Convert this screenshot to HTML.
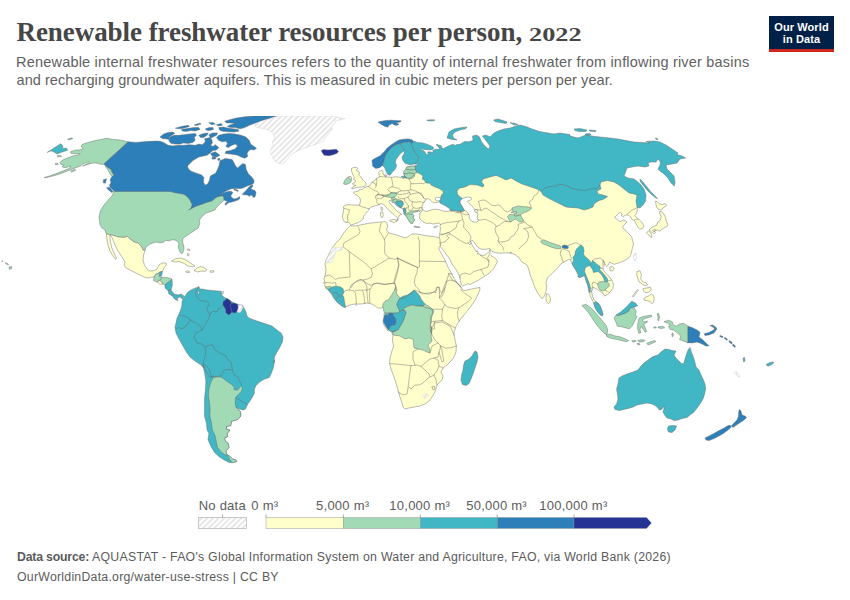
<!DOCTYPE html>
<html lang="en"><head><meta charset="utf-8">
<title>Renewable freshwater resources per person, 2022</title>
<style>
html,body{margin:0;padding:0;background:#fff;}
body{width:850px;height:600px;position:relative;overflow:hidden;font-family:"Liberation Sans",Arial,sans-serif;color:#5b5b5b;}
.abs{position:absolute;white-space:nowrap;}
.yr{display:inline-block;font-size:19.6px;line-height:20px;transform:scaleX(1.34);transform-origin:0 100%;letter-spacing:0;}
#title{left:16.5px;top:16px;font-family:"Liberation Serif","Times New Roman",serif;font-weight:bold;font-size:27px;line-height:32px;color:#464646;letter-spacing:-0.06px;}
.sub{left:16.5px;font-size:14.5px;line-height:18px;color:#616161;letter-spacing:0.19px;}
#sub1{top:52.7px;letter-spacing:0.2px;left:16px;}
#sub2{top:70.5px;letter-spacing:0.065px;}
#logo{left:769px;top:16px;width:65px;height:33px;background:#002147;border-bottom:3px solid #ce261e;color:#fff;font-weight:bold;font-size:11px;line-height:11.7px;text-align:center;letter-spacing:0.1px;}
#logo div{position:absolute;left:0;width:65px;text-align:center;}
.foot{left:17px;font-size:12.3px;line-height:16px;color:#5b5b5b;}
#foot1{top:548.8px;letter-spacing:0.255px;}
#foot2{top:568.6px;letter-spacing:0.25px;}
#foot1 b{color:#5b5b5b;letter-spacing:-0.2px;}
svg{position:absolute;left:0;top:0;}
.lg{font-family:"Liberation Sans",Arial,sans-serif;font-size:13px;fill:#5b5b5b;letter-spacing:0.24px;}
</style></head><body>
<div id="title" class="abs">Renewable freshwater resources per person, <span class="yr">2022</span></div>
<div id="sub1" class="abs sub">Renewable internal freshwater resources refers to the quantity of internal freshwater from inflowing river basins</div>
<div id="sub2" class="abs sub">and recharging groundwater aquifers. This is measured in cubic meters per person per year.</div>
<div id="logo" class="abs"><div style="top:6.2px">Our World</div><div style="top:17.9px">in Data</div></div>
<svg width="850" height="600" viewBox="0 0 850 600">
<defs><pattern id="hatch" patternUnits="userSpaceOnUse" width="4" height="4" patternTransform="rotate(45)"><rect width="4" height="4" fill="#ffffff"/><line x1="1" y1="0" x2="1" y2="4" stroke="#dadada" stroke-width="1.3"/></pattern>
<clipPath id="mapclip"><rect x="0" y="116" width="850" height="360"/></clipPath></defs>
<g clip-path="url(#mapclip)" stroke="#666666" stroke-width="0.45" stroke-linejoin="round">
<path d="M422.0,208.5 L423.5,210.5 L426.0,211.5 L429.0,210.8 L432.0,209.5 L436.0,209.2 L440.0,210.0 L444.0,211.2 L448.0,211.5 L450.5,210.8 L454.0,210.0 L455.0,200.0 L452.0,188.0 L470.0,178.0 L500.0,165.0 L545.0,185.0 L600.0,175.0 L625.0,180.0 L642.0,200.0 L638.0,207.0 L637.5,207.5 L637.2,211.0 L636.0,214.0 L635.0,215.5 L636.5,217.5 L638.5,219.0 L641.0,221.5 L643.0,224.0 L643.8,226.5 L642.5,228.5 L640.0,229.2 L638.5,228.0 L637.0,225.5 L635.5,223.0 L634.5,220.5 L633.0,220.0 L631.5,219.0 L630.5,216.5 L628.5,215.5 L627.0,214.5 L625.0,215.5 L623.0,216.5 L621.5,216.0 L622.0,214.0 L620.5,212.5 L619.0,213.0 L617.5,214.5 L616.0,216.0 L614.5,217.5 L616.5,219.0 L618.5,220.5 L620.0,221.5 L621.5,221.0 L623.5,220.0 L625.5,221.0 L627.0,222.0 L625.5,223.5 L624.0,225.0 L622.5,227.0 L624.0,229.0 L626.5,231.5 L629.0,234.0 L631.0,236.0 L632.0,238.0 L632.5,240.5 L633.5,243.0 L633.0,246.0 L632.2,249.0 L631.5,252.0 L630.5,255.0 L630.7,255.2 L628.5,258.2 L624.7,260.5 L621.0,262.0 L617.2,263.5 L614.2,264.2 L612.0,263.5 L609.7,262.0 L608.2,265.0 L606.7,266.5 L604.5,263.5 L603.0,260.5 L603.0,267.5 L603.7,270.5 L606.0,273.5 L609.0,276.5 L612.0,280.2 L613.5,284.7 L612.7,288.5 L610.5,291.5 L607.5,294.5 L604.5,296.0 L603.0,293.0 L600.0,291.5 L597.0,289.2 L594.0,287.7 L591.7,287.7 L591.0,289.2 L591.7,292.2 L592.5,296.0 L594.0,299.7 L596.2,302.0 L598.5,303.5 L600.0,305.7 L601.5,309.5 L603.0,314.0 L602.2,315.8 L600.0,314.7 L597.0,311.0 L594.7,306.5 L594.0,303.5 L593.2,302.0 L591.7,299.0 L590.2,296.0 L589.5,291.5 L588.7,287.0 L587.2,282.5 L585.7,278.0 L585.0,274.2 L582.7,276.5 L579.0,277.2 L577.5,274.2 L576.0,270.5 L573.7,266.7 L572.2,263.7 L570.7,260.0 L569.2,259.2 L566.2,260.7 L563.2,262.2 L561.0,263.7 L558.7,266.7 L555.0,270.5 L551.2,274.2 L547.5,278.0 L546.0,282.5 L546.7,287.0 L546.0,291.5 L544.5,296.0 L542.2,298.7 L540.7,297.5 L537.7,293.0 L534.7,287.0 L532.5,281.0 L530.2,275.0 L528.7,269.0 L526.5,264.5 L522.0,262.2 L519.0,257.7 L515.2,254.7 L510.0,252.5 L511.5,253.0 L507.0,253.0 L503.0,253.0 L499.0,253.2 L495.0,252.5 L492.0,251.5 L490.5,250.0 L489.5,248.5 L487.0,249.0 L484.0,249.5 L481.0,249.0 L478.0,247.5 L476.0,245.0 L474.5,242.5 L473.0,240.5 L470.5,241.0 L471.2,243.5 L472.5,245.5 L474.0,248.0 L475.5,250.5 L476.5,252.0 L477.0,250.5 L478.0,252.0 L477.5,254.0 L479.0,253.5 L480.0,255.0 L482.5,255.5 L485.0,255.0 L487.0,253.5 L489.0,251.5 L490.0,249.5 L490.5,250.5 L489.5,254.0 L491.0,255.5 L494.0,257.5 L496.5,259.5 L497.5,261.0 L496.5,263.5 L495.0,266.0 L493.5,269.0 L491.0,271.5 L488.0,274.0 L485.0,276.0 L482.0,278.0 L478.0,280.5 L474.0,282.5 L470.0,284.5 L468.0,283.7 L462.7,286.0 L461.5,285.0 L460.5,281.0 L460.2,278.0 L459.0,275.0 L457.5,272.0 L455.5,269.0 L453.5,266.0 L451.5,263.0 L450.0,259.5 L447.5,256.0 L445.0,252.5 L442.5,249.0 L440.0,246.5 L440.5,245.0 L440.0,243.0 L439.0,237.5 L439.5,235.0 L440.0,232.0 L440.5,229.0 L440.0,226.0 L440.5,224.0 L439.0,223.0 L436.0,223.5 L433.0,224.0 L430.0,223.0 L427.0,223.5 L424.0,222.5 L421.0,220.0 L419.5,218.0 L420.0,215.0 L419.2,213.8 L421.0,212.5 L422.0,211.2Z" fill="#ffffcc"/>
<path d="M350.0,225.6 L355.0,226.0 L360.0,225.0 L368.0,223.4 L375.0,222.6 L381.0,222.0 L385.0,221.4 L387.0,223.0 L387.6,227.0 L386.4,230.0 L389.0,233.0 L393.0,234.0 L397.0,235.0 L402.0,237.0 L406.0,238.0 L409.0,236.0 L412.0,234.0 L417.0,234.0 L422.0,235.0 L428.0,236.0 L434.0,236.6 L438.0,237.5 L440.0,238.5 L440.0,243.0 L440.5,245.0 L439.5,247.2 L438.5,247.8 L440.0,251.0 L442.0,255.0 L444.5,259.0 L446.0,262.5 L447.5,266.0 L449.0,269.0 L451.0,272.5 L452.5,275.5 L454.5,279.0 L457.0,282.5 L459.5,285.0 L460.5,286.0 L462.0,289.7 L465.0,290.5 L470.2,289.3 L475.5,288.2 L480.0,287.5 L479.7,290.5 L477.7,295.0 L475.5,299.5 L472.5,304.0 L468.7,309.2 L465.0,313.7 L461.2,318.2 L458.2,322.7 L456.0,326.5 L454.2,331.0 L454.0,335.0 L455.0,340.0 L456.4,346.0 L456.0,352.0 L454.0,357.0 L451.0,361.0 L447.0,365.0 L443.0,368.0 L441.0,372.0 L443.0,376.0 L442.0,380.0 L439.0,383.0 L437.0,385.0 L436.0,389.0 L434.4,393.0 L432.0,397.0 L429.0,401.0 L425.0,404.0 L420.0,406.0 L414.0,407.0 L409.0,408.0 L405.0,409.0 L403.0,407.0 L402.0,403.0 L400.0,397.0 L398.0,390.0 L396.0,383.0 L393.6,376.0 L391.0,369.0 L389.6,363.0 L390.0,358.0 L391.6,352.0 L393.6,346.0 L392.4,340.0 L393.0,335.0 L391.0,331.0 L388.0,328.0 L388.0,331.0 L385.0,327.0 L383.0,323.0 L384.0,319.0 L384.0,314.0 L385.0,309.0 L384.0,305.0 L382.0,308.0 L378.0,308.0 L375.0,306.0 L372.0,304.0 L367.0,303.0 L361.0,304.0 L355.0,304.0 L350.0,305.0 L345.0,307.0 L341.0,305.0 L337.0,302.0 L334.0,298.0 L331.0,294.0 L329.0,291.0 L326.0,288.0 L324.6,286.0 L325.0,283.0 L324.0,279.0 L325.0,276.0 L326.0,270.0 L325.0,264.0 L326.0,260.0 L329.0,254.0 L332.0,248.0 L335.0,244.0 L340.0,239.0 L343.0,234.0 L347.0,229.0Z" fill="#ffffcc"/>
<path d="M128.2,141.8 L120.0,140.0 L111.7,139.2 L107.2,138.2 L100.5,139.5 L94.5,140.7 L89.2,142.2 L82.5,144.2 L81.0,146.0 L83.2,149.0 L80.2,149.7 L75.0,150.2 L70.5,151.7 L71.2,153.5 L76.5,153.8 L80.2,153.5 L78.0,155.0 L73.5,155.7 L66.7,158.3 L62.2,160.2 L60.0,162.5 L60.7,164.3 L63.7,165.2 L62.2,167.0 L66.0,167.7 L70.5,165.8 L69.7,168.2 L64.5,170.3 L57.0,173.3 L49.5,176.0 L44.2,177.5 L45.0,177.9 L52.5,176.1 L60.0,173.9 L67.5,170.9 L75.0,168.0 L81.0,165.8 L82.2,164.3 L88.5,161.7 L89.4,162.5 L82.5,166.2 L90.0,163.7 L93.7,162.9 L97.5,163.2 L101.2,164.3 L104.5,164.3 L107.2,167.0 L111.0,169.2 L112.5,173.0 L114.3,175.2 L112.2,176.4 L110.2,174.5 L108.0,170.0 L105.7,167.0 L104.5,163.4Z" fill="#a1dab4"/>
<path d="M47.2,152.4 L52.5,149.0 L60.7,143.7 L63.0,146.0 L62.2,148.2 L66.7,148.2 L67.5,150.2 L62.2,152.0 L57.0,153.9 L54.0,152.0 L51.0,150.8Z" fill="#41b6c4"/>
<path d="M67.5,139.2 L72.0,137.9 L72.7,138.8 L68.2,139.8Z" fill="#41b6c4"/>
<path d="M57.0,155.7 L60.7,155.4 L61.5,156.5 L57.7,156.8Z" fill="#a1dab4"/>
<path d="M55.2,163.7 L57.7,163.2 L58.2,164.3 L55.5,164.7Z" fill="#a1dab4"/>
<path d="M70.5,171.2 L75.0,169.2 L75.7,170.3 L71.7,172.1Z" fill="#a1dab4"/>
<path d="M114.0,190.0 L114.0,192.0 L112.0,196.0 L109.0,199.0 L104.0,205.0 L100.4,211.0 L99.0,217.0 L100.0,225.0 L102.0,228.0 L105.0,230.0 L106.4,234.0 L112.0,235.0 L118.0,237.0 L125.0,237.4 L127.0,236.0 L130.0,239.0 L134.0,242.0 L138.0,243.0 L141.0,246.0 L143.0,250.0 L145.0,250.4 L146.0,247.0 L150.0,244.0 L156.0,242.0 L160.0,242.7 L163.8,242.2 L165.2,240.3 L169.0,240.8 L172.8,239.7 L175.0,240.0 L177.7,241.5 L178.8,243.8 L178.3,246.8 L179.2,250.5 L181.0,253.5 L182.5,253.2 L183.7,250.5 L184.0,246.8 L182.8,243.0 L182.5,239.2 L184.8,237.0 L189.2,234.0 L193.8,231.0 L198.2,228.0 L199.3,225.0 L199.8,222.8 L199.3,221.2 L200.5,218.2 L203.5,215.2 L206.5,212.7 L211.0,211.5 L214.8,210.0 L216.2,207.8 L218.5,205.2 L220.0,203.8 L222.2,202.2 L224.1,200.0 L224.0,196.3 L222.2,195.5 L220.0,190.0Z" fill="#a1dab4"/>
<path d="M128.2,141.8 L136.0,142.4 L146.0,141.6 L156.0,141.0 L160.0,141.2 L163.5,142.4 L168.2,145.3 L173.0,145.9 L177.6,145.3 L183.5,145.3 L189.4,144.7 L195.3,145.3 L198.8,144.1 L202.4,144.7 L205.3,141.8 L204.7,138.8 L209.4,137.6 L211.8,139.4 L212.4,142.9 L210.6,145.3 L212.9,146.5 L215.3,144.7 L218.8,147.6 L216.5,150.0 L212.9,150.6 L209.4,153.5 L207.0,155.3 L198.8,157.0 L192.9,160.6 L188.2,165.3 L187.6,166.6 L188.5,168.9 L191.1,171.2 L196.4,173.2 L201.6,175.0 L203.9,177.6 L203.4,182.0 L205.1,185.2 L207.8,183.8 L209.5,180.2 L210.4,175.9 L215.6,173.2 L217.4,169.8 L219.1,165.4 L220.0,160.7 L225.2,158.4 L232.2,159.6 L235.8,166.2 L237.5,168.0 L242.8,163.6 L245.4,164.5 L246.2,169.5 L248.5,174.1 L251.5,176.8 L253.8,179.8 L254.1,182.0 L253.0,183.9 L250.0,185.0 L247.0,186.1 L244.0,187.6 L241.0,188.4 L238.0,188.6 L235.0,188.4 L231.2,188.8 L228.2,189.9 L225.2,191.4 L222.2,193.2 L219.6,195.1 L218.1,196.6 L220.4,194.8 L223.4,192.9 L226.8,191.8 L229.8,191.2 L231.6,191.4 L232.8,192.5 L232.0,194.0 L230.9,195.5 L231.2,197.0 L233.9,198.9 L236.5,198.5 L238.4,197.4 L239.5,196.6 L239.9,198.5 L238.0,200.0 L235.0,201.1 L232.0,201.9 L229.0,202.6 L227.1,203.8 L225.6,205.2 L224.9,204.1 L226.4,202.2 L227.5,201.1 L225.2,200.8 L224.1,200.0 L223.9,198.1 L223.6,196.4 L222.2,195.9 L218.1,196.6 L215.5,198.1 L211.8,201.0 L206.5,202.5 L200.5,204.8 L196.0,206.2 L188.5,210.0 L190.8,208.5 L192.2,204.8 L190.0,200.2 L187.8,197.2 L184.0,194.2 L179.5,193.5 L172.8,192.3 L171.2,191.5 L160.0,191.5 L114.8,191.4 L112.5,189.5 L110.2,187.2 L109.5,185.0 L111.0,182.8 L110.2,179.8 L111.8,176.8 L114.3,175.2 L112.5,173.0 L111.0,169.2 L107.2,167.0 L104.5,164.3 L104.5,163.4Z" fill="#2c7fb8"/>
<path d="M160.0,137.1 L163.5,134.1 L168.2,132.4 L172.9,132.1 L174.7,133.5 L171.8,135.3 L169.4,137.1 L168.8,139.4 L165.9,138.8 L162.9,138.8Z" fill="#2c7fb8"/>
<path d="M168.8,139.4 L170.0,137.1 L174.1,135.3 L178.8,135.3 L183.5,134.7 L189.4,134.1 L195.3,133.5 L196.5,135.3 L194.1,137.6 L195.3,140.0 L192.9,142.4 L188.2,143.5 L183.5,142.9 L180.0,144.1 L175.3,144.1 L171.2,143.5 L169.4,141.8Z" fill="#2c7fb8"/>
<path d="M175.3,128.2 L181.2,126.5 L188.2,125.3 L189.4,126.5 L183.5,128.2 L178.8,128.8Z" fill="#2c7fb8"/>
<path d="M181.2,129.4 L187.1,128.6 L194.1,127.6 L198.8,127.6 L200.0,129.4 L195.3,130.9 L190.6,130.6 L185.9,131.4 L182.4,130.9Z" fill="#2c7fb8"/>
<path d="M194.1,125.1 L199.4,123.2 L201.2,123.9 L196.5,125.5Z" fill="#2c7fb8"/>
<path d="M208.8,122.7 L212.9,122.4 L215.3,123.9 L211.8,124.7Z" fill="#2c7fb8"/>
<path d="M205.3,128.8 L209.4,127.6 L212.9,127.6 L213.5,129.4 L209.4,130.6 L206.5,130.2Z" fill="#2c7fb8"/>
<path d="M224.7,121.2 L230.6,119.4 L236.5,118.0 L244.7,116.8 L254.1,116.1 L260.0,115.9 L277.6,115.6 L265.9,119.4 L260.0,121.2 L254.1,123.5 L249.4,125.3 L244.7,127.6 L240.0,128.8 L235.3,127.6 L230.6,127.6 L227.1,126.5 L230.6,124.7 L235.3,123.5 L230.6,122.9 L226.5,122.9Z" fill="#2c7fb8"/>
<path d="M218.8,127.6 L223.5,127.1 L228.2,128.2 L232.9,128.8 L238.2,129.4 L238.8,131.2 L234.1,132.1 L228.2,131.8 L222.4,131.2 L219.4,130.0Z" fill="#2c7fb8"/>
<path d="M216.5,124.7 L221.2,123.5 L222.4,125.3 L218.2,125.9Z" fill="#2c7fb8"/>
<path d="M198.8,135.3 L203.5,133.5 L208.2,132.9 L207.1,135.3 L203.5,137.6 L200.6,137.6Z" fill="#2c7fb8"/>
<path d="M208.8,134.7 L212.9,132.9 L217.6,132.9 L216.5,135.3 L212.9,137.1 L210.6,138.2Z" fill="#2c7fb8"/>
<path d="M216.5,137.6 L218.8,135.3 L223.5,134.1 L229.4,133.5 L235.3,134.1 L241.2,135.3 L245.9,137.1 L249.4,140.6 L250.6,144.1 L254.1,146.5 L256.5,148.2 L254.1,150.0 L250.6,149.4 L248.2,151.2 L247.1,153.5 L247.6,156.5 L244.7,158.2 L241.2,157.1 L237.6,155.3 L235.3,154.7 L230.6,154.1 L225.3,153.5 L225.9,151.2 L230.6,150.6 L235.3,148.8 L237.6,145.9 L235.3,144.1 L231.8,145.3 L228.2,147.6 L225.9,146.5 L227.6,143.5 L225.9,141.2 L222.4,141.8 L218.8,140.6Z" fill="#2c7fb8"/>
<path d="M210.6,153.5 L215.3,151.8 L220.0,155.3 L216.5,157.1 L212.4,156.5Z" fill="#2c7fb8"/>
<path d="M211.8,157.6 L215.3,157.1 L215.9,158.8 L212.4,159.2Z" fill="#2c7fb8"/>
<path d="M217.6,158.8 L219.4,158.2 L220.0,160.0 L218.2,160.4Z" fill="#2c7fb8"/>
<path d="M242.1,194.4 L244.0,192.5 L246.3,190.3 L248.5,187.6 L250.8,185.4 L253.0,185.0 L252.3,186.9 L250.8,188.8 L253.0,189.9 L254.9,190.6 L256.0,192.5 L255.6,194.8 L254.9,197.0 L253.4,197.4 L252.3,195.5 L250.8,195.1 L249.3,196.3 L247.4,195.1 L244.8,194.8Z" fill="#2c7fb8"/>
<path d="M233.9,189.1 L236.5,189.7 L238.4,190.6 L238.0,191.4 L235.8,190.6 L234.1,189.9Z" fill="#2c7fb8"/>
<path d="M103.5,179.7 L106.5,178.7 L105.3,183.2 L103.2,182.7Z" fill="#2c7fb8"/>
<path d="M106.5,187.7 L109.5,187.2 L113.2,191.7 L111.7,192.5 L108.0,189.5Z" fill="#2c7fb8"/>
<path d="M106.4,234.0 L112.0,235.0 L118.0,237.0 L125.0,237.4 L127.0,236.0 L130.0,239.0 L134.0,242.0 L138.0,243.0 L141.0,246.0 L143.0,250.0 L145.0,250.4 L143.6,255.0 L143.0,260.0 L144.4,265.0 L147.0,269.0 L150.0,271.0 L154.0,270.6 L157.0,269.0 L159.0,265.0 L162.0,263.0 L166.0,263.0 L166.4,265.0 L164.0,268.0 L162.4,271.4 L159.6,272.0 L159.0,273.0 L156.0,274.0 L154.0,277.0 L150.0,277.4 L148.0,278.0 L144.0,277.0 L138.0,274.0 L132.0,271.0 L126.0,268.0 L124.0,265.0 L125.0,262.0 L122.0,257.0 L118.0,251.0 L115.0,245.0 L113.0,240.0 L111.6,236.6 L110.0,235.0 L110.0,237.4 L110.4,242.0 L111.6,247.0 L114.0,253.0 L116.4,258.0 L115.6,259.4 L113.0,256.0 L110.0,251.0 L108.0,245.0 L107.0,239.0Z" fill="#ffffcc"/>
<path d="M154.0,277.0 L156.0,274.0 L159.0,273.0 L159.6,276.6 L162.4,277.4 L160.0,280.0 L157.0,282.0 L153.6,280.6Z" fill="#a1dab4"/>
<path d="M159.6,272.0 L162.4,271.4 L161.6,276.0 L159.6,276.6Z" fill="#41b6c4"/>
<path d="M160.0,280.0 L162.4,277.4 L167.0,277.4 L172.0,279.0 L170.0,281.0 L167.0,283.0 L165.0,285.0 L163.0,284.0Z" fill="#a1dab4"/>
<path d="M157.0,282.0 L160.0,280.4 L163.0,284.0 L160.0,284.4Z" fill="#ffffcc"/>
<path d="M165.0,285.0 L167.0,283.0 L170.0,281.0 L172.0,279.0 L172.4,285.0 L171.0,290.0 L168.0,290.6 L165.0,288.0Z" fill="#41b6c4"/>
<path d="M168.0,290.6 L171.0,290.0 L174.0,294.0 L172.4,296.0 L169.0,294.0Z" fill="#41b6c4"/>
<path d="M172.4,296.0 L174.0,294.0 L178.0,295.0 L181.0,294.0 L184.0,296.0 L182.4,299.0 L180.0,297.0 L177.0,298.0 L178.0,300.6 L175.0,299.4Z" fill="#41b6c4"/>
<path d="M171.6,261.0 L176.0,258.6 L181.0,258.0 L186.0,260.0 L191.0,263.4 L195.0,266.0 L193.0,267.0 L188.0,266.0 L184.0,263.4 L179.0,261.4 L174.0,262.0Z" fill="#ffffcc"/>
<path d="M194.0,270.6 L197.0,268.0 L200.0,266.6 L204.0,267.4 L207.0,270.0 L205.0,271.4 L201.0,271.0 L198.0,272.0Z" fill="#ffffcc"/>
<path d="M185.6,271.4 L189.0,271.0 L189.6,272.4 L186.4,272.6Z" fill="#ffffcc"/>
<path d="M210.0,271.0 L213.6,270.6 L214.0,272.0 L210.4,272.4Z" fill="#ffffcc"/>
<path d="M187.0,249.0 L189.6,249.4 L190.0,250.6 L187.6,250.2Z" fill="#ffffcc"/>
<path d="M187.4,253.4 L189.0,254.0 L188.6,256.0 L187.4,255.4Z" fill="#ffffcc"/>
<path d="M185.0,296.0 L188.0,292.0 L192.0,289.4 L197.0,287.4 L199.0,286.6 L199.6,289.0 L202.0,289.0 L207.0,290.0 L212.0,290.6 L218.0,291.0 L221.0,291.4 L222.4,293.0 L221.6,295.0 L224.4,297.4 L227.0,298.6 L230.0,300.6 L234.0,303.0 L239.0,304.6 L242.4,305.4 L244.0,308.0 L246.0,312.0 L247.0,316.0 L249.0,318.0 L254.0,320.0 L260.0,322.0 L266.0,324.0 L272.0,326.0 L277.0,330.0 L281.0,333.0 L283.0,337.0 L282.4,342.0 L280.0,347.0 L277.0,352.0 L274.4,357.0 L274.0,363.0 L274.5,360.0 L273.6,367.0 L271.0,374.0 L269.3,377.5 L264.0,379.3 L259.6,381.9 L256.1,385.4 L254.4,388.9 L254.4,393.3 L252.6,396.8 L250.0,401.1 L247.4,404.6 L245.6,409.0 L243.0,409.9 L239.5,409.0 L236.0,407.3 L240.4,411.6 L240.9,416.0 L237.8,419.5 L231.6,421.3 L230.8,425.6 L226.4,426.5 L226.4,429.1 L229.9,430.0 L227.3,433.5 L227.3,437.0 L224.6,437.9 L225.5,441.4 L228.1,443.1 L229.0,447.5 L225.9,451.0 L226.9,454.5 L229.9,456.3 L232.5,458.9 L236.0,460.1 L236.9,461.5 L232.5,462.7 L229.0,462.4 L223.8,459.8 L218.5,456.3 L214.1,451.9 L210.6,445.8 L208.0,439.6 L208.9,433.5 L207.1,430.0 L206.3,423.0 L204.5,416.0 L204.5,407.3 L204.5,398.5 L205.4,389.8 L205.9,381.0 L204.5,372.3 L202.8,365.3 L204.0,368.0 L201.0,365.0 L195.0,361.0 L190.0,357.0 L187.0,353.0 L183.0,346.0 L179.0,339.0 L176.0,333.0 L175.0,327.0 L176.0,323.0 L177.0,318.0 L179.0,314.0 L181.0,309.0 L182.0,305.0 L182.0,302.0 L183.0,299.0Z" fill="#41b6c4"/>
<path d="M213.3,377.5 L217.6,376.6 L222.0,377.5 L226.4,381.0 L231.6,384.5 L234.3,387.1 L233.9,389.8 L237.8,390.1 L240.4,386.3 L242.7,388.0 L241.3,391.5 L237.8,395.0 L235.7,397.6 L235.1,402.9 L236.0,407.3 L240.4,411.6 L240.9,416.0 L237.8,419.5 L231.6,421.3 L230.8,425.6 L226.4,426.5 L226.4,429.1 L229.9,430.0 L227.3,433.5 L227.3,437.0 L224.6,437.9 L225.5,441.4 L228.1,443.1 L229.0,447.5 L225.9,451.0 L226.9,454.5 L229.9,456.3 L232.5,458.9 L236.0,460.1 L236.9,461.5 L232.5,462.4 L229.9,459.8 L227.6,455.4 L224.6,454.5 L221.1,451.9 L217.6,447.5 L216.4,442.3 L215.0,435.3 L212.4,430.0 L211.5,423.0 L209.8,416.0 L210.1,409.0 L209.4,402.0 L208.4,395.0 L208.9,388.9 L210.6,382.8Z" fill="#a1dab4"/>
<path d="M223.0,302.0 L227.0,298.6 L230.0,300.6 L231.6,303.4 L230.0,305.0 L231.0,308.0 L232.0,312.0 L229.0,315.0 L226.0,313.0 L225.6,309.0 L223.0,305.0Z" fill="#253494"/>
<path d="M231.6,303.4 L234.0,303.0 L238.0,304.6 L238.4,308.0 L237.0,312.0 L234.0,313.0 L232.0,312.0 L231.0,308.0 L230.0,305.0Z" fill="#253494"/>
<path d="M238.0,304.6 L241.0,305.0 L243.0,307.0 L242.0,310.0 L240.0,312.6 L237.0,312.0 L238.4,308.0Z" fill="url(#hatch)" stroke="#d0d0d0"/>
<path d="M197.6,291.0 L199.2,291.8 L199.0,294.2 L197.8,293.8Z" fill="#ffffff"/>
<path d="M254.5,125.2 L259.0,122.2 L265.0,120.0 L277.0,117.7 L277.7,115.9 L302.5,115.9 L331.0,115.9 L334.0,116.7 L345.2,118.5 L340.0,120.0 L335.5,120.7 L334.7,123.7 L331.7,126.0 L332.5,129.0 L330.2,132.0 L328.0,135.0 L325.0,137.2 L323.5,141.0 L320.5,142.5 L316.0,144.3 L310.0,146.2 L304.0,148.5 L298.0,150.7 L293.5,153.0 L289.7,156.0 L286.7,159.7 L284.5,162.7 L281.5,164.2 L277.7,162.7 L274.0,160.5 L272.5,156.7 L270.2,153.0 L271.0,148.5 L273.2,145.5 L272.5,141.7 L274.7,138.7 L274.0,135.0 L272.5,132.7 L268.0,129.7 L262.0,128.2 L256.7,127.5Z" fill="url(#hatch)" stroke="#d0d0d0"/>
<path d="M321.2,150.7 L323.5,149.5 L328.0,150.0 L331.7,149.7 L336.2,149.2 L338.5,151.5 L337.0,153.3 L333.2,154.8 L328.7,155.7 L324.2,155.2 L322.7,153.3Z" fill="#253494"/>
<path d="M343.5,184.0 L344.5,181.0 L346.0,178.5 L348.5,177.0 L350.5,177.5 L351.5,179.5 L351.0,182.0 L349.0,183.5 L346.0,184.5Z" fill="#a1dab4"/>
<path d="M349.0,176.5 L351.0,176.5 L351.5,178.5 L350.0,179.0 L348.8,178.0Z" fill="#ffffcc"/>
<path d="M351.5,168.5 L353.5,167.5 L356.5,167.2 L357.5,168.5 L356.5,170.5 L359.0,171.5 L359.5,173.5 L358.5,175.0 L360.5,176.5 L362.0,179.0 L363.5,180.5 L365.5,182.5 L366.0,184.5 L364.5,186.5 L361.5,187.0 L358.5,187.2 L355.0,188.0 L352.0,188.8 L351.5,188.0 L354.0,186.5 L356.0,185.5 L353.5,185.0 L352.5,183.5 L355.0,182.5 L355.5,180.5 L353.5,179.5 L354.5,177.5 L353.5,176.0 L352.5,173.5 L351.5,171.0Z" fill="#ffffcc"/>
<path d="M416.2,166.2 L410.2,166.2 L407.2,166.8 L408.0,167.7 L408.0,169.5 L404.2,171.0 L404.5,174.7 L405.7,177.7 L402.7,178.5 L401.7,177.7 L396.0,176.7 L391.5,177.4 L389.2,177.0 L384.7,177.0 L384.7,176.2 L383.2,174.0 L382.8,171.0 L381.0,170.2 L378.7,172.5 L379.5,177.0 L376.5,178.5 L374.2,180.7 L372.0,182.2 L369.4,185.8 L367.0,186.7 L364.0,187.9 L362.5,189.4 L359.5,189.4 L358.5,191.2 L355.0,191.8 L353.5,192.4 L353.4,192.9 L354.9,194.4 L357.5,195.5 L359.4,197.4 L360.5,200.0 L360.1,203.0 L359.4,205.3 L356.0,205.1 L351.5,204.9 L347.0,204.7 L344.4,205.6 L343.3,207.1 L344.0,208.3 L343.6,209.0 L343.3,212.0 L342.5,215.0 L342.5,218.0 L343.6,220.3 L344.4,222.1 L346.3,222.4 L348.9,222.5 L350.0,224.0 L351.1,225.1 L353.0,224.4 L355.3,223.6 L358.3,222.5 L360.9,221.0 L363.1,218.8 L363.5,216.5 L365.0,214.3 L366.5,212.4 L368.4,210.5 L369.5,208.6 L370.6,207.1 L373.3,206.4 L375.9,205.6 L378.1,204.9 L379.3,204.1 L379.1,204.4 L381.0,203.6 L383.3,204.4 L385.1,206.3 L387.0,208.1 L388.9,210.4 L391.1,212.3 L393.4,214.1 L395.6,216.0 L397.1,217.5 L397.9,219.0 L397.5,220.9 L396.4,221.6 L397.4,219.8 L398.6,217.5 L399.0,215.6 L400.9,214.5 L402.0,214.5 L400.9,213.4 L399.0,212.6 L397.1,211.1 L394.9,208.9 L393.0,206.6 L391.1,204.8 L389.6,202.9 L388.9,201.4 L389.6,200.3 L391.1,200.6 L391.9,201.4 L392.6,202.5 L393.8,202.1 L394.5,203.3 L396.0,204.8 L397.9,206.3 L399.8,207.4 L401.6,208.1 L403.1,208.9 L403.5,210.4 L403.9,212.6 L404.3,214.5 L405.4,215.3 L406.5,216.8 L407.6,218.6 L408.8,220.5 L409.5,222.0 L411.0,223.1 L412.5,223.5 L412.9,222.0 L414.0,220.9 L414.8,219.8 L413.6,218.6 L412.9,217.1 L414.0,216.0 L412.9,214.5 L411.8,213.4 L413.3,212.3 L415.1,211.9 L417.0,211.5 L418.5,210.8 L418.5,210.5 L420.0,211.2 L421.0,210.5 L422.0,209.5 L422.0,208.5 L422.0,206.5 L423.0,203.5 L425.0,201.0 L426.5,198.5 L429.0,199.0 L431.5,201.0 L433.0,202.5 L436.0,202.6 L439.0,202.0 L439.8,201.2 L439.0,200.7 L436.5,200.7 L435.0,199.7 L435.5,198.0 L437.5,197.2 L440.0,197.5 L441.0,197.0 L445.0,192.0 L445.0,186.0 L435.0,180.0 L430.0,175.0 L425.0,170.0 L420.0,167.0Z" fill="#ffffcc"/>
<path d="M389.6,220.1 L391.9,219.8 L394.5,219.4 L396.4,219.8 L395.6,221.6 L394.5,222.8 L392.3,222.0 L390.4,221.3Z" fill="#ffffcc"/>
<path d="M380.6,212.3 L382.5,211.9 L383.3,214.5 L382.9,216.8 L381.4,217.5 L380.4,215.3Z" fill="#ffffcc"/>
<path d="M381.0,207.4 L382.1,207.0 L382.9,209.3 L382.1,210.8 L381.2,210.0Z" fill="#ffffcc"/>
<path d="M384.7,174.7 L387.0,175.5 L385.8,177.3Z" fill="#ffffcc"/>
<path d="M433.5,227.0 L436.0,226.0 L437.5,225.8 L436.5,227.2 L434.5,228.0Z" fill="#ffffcc"/>
<path d="M372.0,160.2 L372.7,166.2 L375.7,168.5 L379.5,167.7 L382.5,165.5 L384.0,161.7 L384.7,158.0 L386.2,154.2 L389.2,150.5 L392.2,147.2 L396.0,144.8 L399.3,143.7 L402.7,142.7 L405.7,142.2 L409.5,141.8 L411.7,143.7 L413.7,142.2 L412.5,140.0 L408.7,138.9 L403.5,139.2 L399.0,140.0 L395.2,142.2 L390.7,145.2 L387.0,148.2 L384.0,152.0 L380.2,155.7 L375.7,158.0Z" fill="#2c7fb8"/>
<path d="M382.5,165.5 L384.0,161.7 L384.7,158.0 L386.2,154.2 L389.2,150.5 L392.2,147.2 L396.0,144.8 L399.3,143.7 L400.5,144.2 L402.7,147.5 L404.2,150.5 L403.5,151.2 L400.5,153.5 L398.2,156.5 L396.0,159.5 L395.2,162.5 L396.7,165.5 L395.2,169.2 L392.2,172.2 L390.0,175.2 L387.7,174.5 L386.2,171.5 L384.7,167.7Z" fill="#41b6c4"/>
<path d="M399.3,143.7 L402.7,142.7 L405.7,142.2 L409.5,141.8 L411.7,143.7 L413.2,149.0 L416.2,153.5 L419.2,158.0 L417.0,161.7 L414.7,164.0 L409.5,164.7 L405.0,163.2 L402.7,160.2 L402.0,157.2 L404.2,153.5 L404.2,150.5 L402.7,147.5 L400.5,144.2Z" fill="#41b6c4"/>
<path d="M378.0,122.0 L384.0,120.8 L390.0,120.2 L396.0,120.5 L401.2,120.8 L400.5,122.0 L396.0,122.7 L399.0,124.2 L396.7,125.4 L393.7,124.7 L392.2,123.5 L389.2,125.0 L387.7,127.2 L384.7,126.2 L381.0,124.2Z" fill="#2c7fb8"/>
<path d="M406.5,167.1 L411.7,166.2 L415.2,166.2 L415.5,169.2 L412.5,170.0 L408.0,169.7 L405.7,169.2Z" fill="#a1dab4"/>
<path d="M403.5,171.5 L405.7,169.2 L408.0,169.7 L412.5,170.0 L415.5,169.2 L416.7,172.2 L414.0,173.7 L409.5,173.0 L406.5,173.7 L403.8,173.7Z" fill="#a1dab4"/>
<path d="M403.8,173.7 L406.5,173.7 L409.5,173.0 L414.0,173.7 L414.7,176.0 L412.5,178.2 L409.5,178.7 L406.5,177.5 L404.7,176.0Z" fill="#a1dab4"/>
<path d="M401.2,176.4 L404.7,176.0 L406.5,177.5 L402.7,177.8Z" fill="#41b6c4"/>
<path d="M382.1,195.4 L385.5,195.8 L389.3,194.6 L391.5,192.4 L394.5,192.4 L396.8,193.1 L396.4,195.4 L394.9,196.9 L392.3,197.6 L389.6,197.3 L387.0,196.9 L384.4,196.5Z" fill="#a1dab4"/>
<path d="M391.4,198.0 L392.3,197.6 L394.5,197.3 L395.6,198.4 L394.1,199.9 L391.9,200.3Z" fill="#a1dab4"/>
<path d="M391.9,200.3 L394.1,199.9 L396.0,198.8 L398.6,199.5 L401.6,200.6 L402.8,201.8 L400.1,201.4 L397.5,201.0 L396.0,201.4 L395.6,202.5 L396.8,204.0 L398.6,205.9 L400.9,207.4 L401.6,208.1 L399.8,207.4 L397.9,206.3 L396.0,204.8 L394.5,203.3 L393.8,202.1 L392.6,202.5 L391.9,201.4Z" fill="#a1dab4"/>
<path d="M396.0,201.4 L397.5,201.0 L400.1,201.4 L402.8,201.8 L403.5,203.3 L403.1,205.1 L402.0,207.0 L400.9,207.4 L398.6,205.9 L396.8,204.0 L395.6,202.5Z" fill="#41b6c4"/>
<path d="M403.5,208.1 L405.0,207.8 L405.8,209.6 L406.1,211.9 L405.4,213.8 L404.3,214.5 L403.9,212.6 L403.4,210.4Z" fill="#41b6c4"/>
<path d="M405.4,215.3 L405.8,213.8 L407.6,212.6 L409.5,211.9 L411.8,211.1 L414.0,210.8 L417.0,210.4 L418.5,210.8 L417.0,211.7 L415.1,211.9 L413.3,212.3 L411.8,213.4 L412.9,214.5 L414.0,216.0 L412.9,217.1 L413.6,218.6 L414.8,219.8 L414.0,220.9 L412.9,222.0 L412.5,223.5 L411.0,223.1 L409.5,222.0 L408.8,220.5 L407.6,218.6 L406.5,216.8Z" fill="#a1dab4"/>
<path d="M414.0,226.1 L417.0,226.5 L419.6,226.9 L419.9,227.6 L417.0,227.6 L414.4,227.1Z" fill="#a1dab4"/>
<path d="M447.0,138.0 L449.0,132.0 L454.0,129.0 L462.0,127.4 L467.0,127.0 L466.0,128.6 L460.0,130.0 L455.0,132.0 L452.4,135.0 L453.6,138.0 L457.0,140.0 L452.0,139.4Z" fill="#41b6c4"/>
<path d="M493.6,120.0 L498.0,119.0 L503.0,120.6 L507.0,122.0 L506.0,123.4 L500.0,122.6 L495.0,121.6Z" fill="#41b6c4"/>
<path d="M510.0,122.6 L515.0,123.4 L518.0,124.6 L514.0,125.0Z" fill="#41b6c4"/>
<path d="M574.0,129.0 L580.0,128.6 L587.0,130.0 L586.0,131.4 L579.0,131.6 L575.0,130.6Z" fill="#41b6c4"/>
<path d="M589.0,130.0 L596.0,130.6 L595.6,131.6 L590.0,131.2Z" fill="#41b6c4"/>
<path d="M585.0,134.0 L590.0,133.4 L591.0,135.0 L587.0,136.0Z" fill="#41b6c4"/>
<path d="M655.6,138.0 L658.0,139.0 L657.2,139.8 L655.6,139.0Z" fill="#41b6c4"/>
<path d="M640.0,179.0 L643.0,182.0 L647.0,187.0 L651.0,192.0 L655.0,196.0 L657.6,198.6 L655.0,197.4 L651.0,194.0 L647.0,190.0 L643.0,185.0 L640.0,181.0Z" fill="#41b6c4"/>
<path d="M426.7,120.2 L431.2,119.7 L435.0,119.9 L433.5,120.8 L429.0,120.9Z" fill="#41b6c4"/>
<path d="M546.7,293.7 L548.7,294.5 L550.5,298.2 L550.2,302.0 L548.2,303.5 L546.4,301.2 L546.0,297.5Z" fill="#ffffcc"/>
<path d="M609.7,267.2 L612.7,266.5 L614.2,268.7 L612.7,271.0 L610.2,270.7Z" fill="#ffffcc"/>
<path d="M634.2,253.7 L636.0,253.0 L636.7,256.0 L636.0,259.7 L634.5,261.2 L633.3,258.2Z" fill="url(#hatch)" stroke="#d0d0d0"/>
<path d="M655.5,201.0 L657.5,202.0 L659.5,204.0 L662.5,204.5 L665.0,203.5 L666.5,205.0 L665.5,206.5 L663.5,207.5 L662.5,209.0 L660.0,210.0 L658.0,209.0 L656.5,207.0 L656.0,204.5Z" fill="#ffffcc"/>
<path d="M660.0,211.0 L662.5,212.5 L664.5,215.0 L665.5,218.0 L666.5,221.5 L668.0,225.0 L667.0,226.5 L664.5,227.5 L662.5,229.0 L660.5,230.5 L659.0,231.2 L657.5,230.0 L655.5,230.5 L654.0,231.5 L655.5,232.5 L654.5,233.5 L652.5,233.0 L650.5,231.0 L649.0,230.0 L650.5,228.5 L652.5,227.0 L655.0,226.0 L657.0,225.0 L657.5,222.0 L659.0,221.5 L660.5,219.5 L661.0,216.5 L660.0,214.0 L659.5,212.0Z" fill="#ffffcc"/>
<path d="M646.5,232.5 L648.5,231.0 L650.0,232.0 L651.5,234.5 L652.0,237.0 L650.8,237.5 L649.5,235.5 L648.0,234.5Z" fill="#ffffcc"/>
<path d="M652.5,230.2 L655.5,229.5 L656.0,230.5 L653.5,231.5Z" fill="#ffffcc"/>
<path d="M540.7,241.2 L543.7,239.7 L549.0,242.0 L555.0,244.2 L560.2,245.7 L561.0,248.7 L556.5,248.7 L551.2,247.2 L546.0,245.0 L542.2,243.5Z" fill="#a1dab4"/>
<path d="M593.7,302.7 L595.8,301.7 L598.5,303.5 L600.0,305.7 L601.5,309.5 L603.0,314.0 L602.2,315.8 L600.0,314.7 L597.0,311.0 L594.7,306.5Z" fill="#41b6c4"/>
<path d="M475.0,351.0 L477.0,352.0 L478.0,357.0 L477.0,362.0 L475.0,368.0 L473.0,374.0 L471.0,379.0 L469.0,383.6 L466.0,385.6 L462.4,384.4 L461.0,380.0 L461.6,375.0 L463.0,370.0 L463.6,365.0 L465.0,361.0 L469.0,359.0 L472.0,356.0 L473.6,353.0Z" fill="#41b6c4"/>
<path d="M327.0,259.0 L332.0,248.0 L343.0,247.4 L342.0,250.0 L336.0,251.0 L334.0,257.0 L332.0,262.0 L327.0,263.0 L325.4,262.6Z" fill="url(#hatch)" stroke="#d0d0d0"/>
<path d="M325.6,286.9 L330.6,286.2 L331.2,288.1 L328.1,289.4 L326.2,288.8Z" fill="#a1dab4"/>
<path d="M328.1,289.4 L331.2,288.1 L331.9,286.9 L336.2,286.2 L340.6,286.9 L343.1,288.8 L343.8,292.5 L342.5,295.0 L340.6,296.9 L338.8,295.6 L336.9,293.1 L334.4,292.5 L332.5,294.4 L330.0,291.9Z" fill="#41b6c4"/>
<path d="M332.5,294.4 L334.4,292.5 L336.9,293.1 L338.8,295.6 L337.5,298.1 L335.6,300.0 L333.8,298.1Z" fill="#41b6c4"/>
<path d="M335.6,300.0 L337.5,298.1 L338.8,295.6 L340.6,296.9 L342.5,295.0 L343.8,296.9 L344.4,301.2 L345.6,307.5 L343.1,306.9 L340.0,304.4 L336.9,301.9Z" fill="#41b6c4"/>
<path d="M382.5,306.9 L383.1,303.8 L385.0,301.2 L388.8,299.4 L391.9,294.4 L394.4,290.6 L395.6,286.9 L396.9,290.0 L396.2,293.1 L398.1,295.6 L400.0,298.1 L398.1,301.2 L396.9,304.4 L398.1,307.5 L400.0,311.2 L397.5,313.1 L392.5,313.1 L387.5,313.1 L385.0,313.1 L383.8,311.2 L383.1,307.5Z" fill="#a1dab4"/>
<path d="M385.0,313.4 L388.8,313.4 L388.8,315.6 L384.8,315.6Z" fill="#41b6c4"/>
<path d="M384.4,315.6 L388.8,315.6 L388.8,313.1 L392.5,313.1 L393.8,316.2 L395.6,318.1 L396.2,322.5 L395.0,325.0 L392.5,325.6 L390.6,326.2 L389.4,328.8 L388.1,329.4 L386.2,326.9 L384.4,323.8 L383.1,321.2 L383.8,318.1Z" fill="#2c7fb8"/>
<path d="M392.5,313.1 L397.5,313.1 L400.0,311.2 L402.5,310.0 L405.0,310.6 L406.2,312.5 L405.0,316.2 L403.8,320.0 L401.9,323.8 L400.0,326.9 L398.1,330.0 L395.0,331.2 L391.9,331.5 L390.0,331.2 L388.1,329.4 L389.4,328.8 L390.6,326.2 L392.5,325.6 L395.0,325.0 L396.2,322.5 L395.6,318.1 L393.8,316.2Z" fill="#41b6c4"/>
<path d="M398.1,301.2 L400.0,298.1 L403.1,296.2 L407.5,295.0 L411.9,291.9 L413.8,290.0 L416.9,292.5 L420.0,296.2 L421.0,299.0 L425.0,304.0 L423.0,306.0 L417.0,306.0 L412.0,305.0 L407.0,306.6 L403.0,309.0 L405.0,310.6 L402.5,310.0 L400.0,311.2 L398.1,307.5 L396.9,304.4Z" fill="#41b6c4"/>
<path d="M405.0,310.6 L403.0,309.0 L407.0,306.6 L412.0,305.0 L417.0,306.0 L423.0,306.0 L425.0,304.0 L430.0,307.0 L434.0,311.0 L432.0,316.0 L431.0,321.0 L430.0,327.0 L431.0,333.0 L431.0,326.0 L432.0,331.0 L431.0,336.0 L432.0,341.0 L428.0,345.0 L430.0,350.0 L430.0,353.0 L427.0,352.0 L423.0,350.0 L418.0,349.0 L414.0,348.0 L413.0,339.0 L409.0,338.0 L405.0,339.0 L400.0,336.0 L393.0,335.0 L392.4,332.4 L395.0,331.0 L391.9,331.9 L395.0,331.2 L398.1,330.0 L400.0,326.9 L401.9,323.8 L403.8,320.0 L405.0,316.2 L406.2,312.5Z" fill="#a1dab4"/>
<path d="M422.4,396.0 L426.0,393.6 L428.4,395.6 L425.0,398.4Z" fill="url(#hatch)" stroke="#d0d0d0"/>
<path d="M582.2,305.2 L586.0,304.5 L590.5,307.5 L595.0,312.0 L598.7,316.5 L602.5,321.0 L606.2,325.5 L607.7,330.0 L607.0,334.5 L604.7,333.7 L601.0,330.0 L597.2,325.5 L593.5,320.2 L589.7,314.2 L586.0,309.7 L583.0,306.7Z" fill="#a1dab4"/>
<path d="M606.2,334.5 L610.0,334.2 L615.2,336.0 L619.7,336.7 L625.0,338.7 L628.7,340.5 L626.5,341.7 L621.2,340.5 L616.0,339.3 L610.7,338.2 L607.0,336.7Z" fill="#a1dab4"/>
<path d="M631.7,340.8 L634.7,340.2 L636.2,341.2 L633.2,342.3Z" fill="#a1dab4"/>
<path d="M637.7,340.5 L641.5,339.7 L645.2,340.2 L643.0,341.7 L639.2,342.0Z" fill="#a1dab4"/>
<path d="M637.0,343.5 L639.2,343.2 L640.0,344.7 L637.7,344.7Z" fill="#a1dab4"/>
<path d="M646.7,343.5 L650.5,341.7 L655.0,340.5 L655.7,341.7 L652.0,343.5 L648.2,345.0Z" fill="#a1dab4"/>
<path d="M616.0,315.0 L619.7,312.7 L624.2,309.0 L628.0,305.2 L631.7,301.2 L635.5,303.0 L637.7,305.7 L634.0,307.2 L630.2,308.2 L628.7,311.2 L625.0,313.5 L620.5,315.0 L617.5,315.7Z" fill="#41b6c4"/>
<path d="M616.0,315.0 L617.5,315.7 L620.5,315.0 L625.0,313.5 L628.7,311.2 L630.2,308.2 L634.0,307.5 L636.2,311.2 L635.5,315.0 L637.0,316.5 L634.7,321.0 L632.5,325.5 L629.5,328.8 L625.0,327.7 L621.2,326.7 L617.5,326.2 L616.0,322.5 L614.2,318.0Z" fill="#a1dab4"/>
<path d="M639.2,318.0 L643.0,316.5 L647.5,315.7 L651.2,315.0 L652.0,316.2 L648.2,317.7 L644.5,318.7 L642.2,320.2 L644.5,321.7 L647.5,321.0 L646.7,322.8 L643.7,324.0 L645.2,327.7 L646.7,331.5 L645.2,332.2 L643.0,329.2 L641.5,326.2 L640.0,329.2 L640.7,333.0 L638.8,333.3 L637.7,329.2 L637.7,324.0 L638.5,320.2Z" fill="#a1dab4"/>
<path d="M657.2,313.8 L658.7,313.5 L659.5,317.2 L658.7,321.0 L657.7,320.2 L658.0,317.2Z" fill="#a1dab4"/>
<path d="M653.5,327.3 L655.7,326.7 L656.5,327.7 L654.2,328.2Z" fill="#a1dab4"/>
<path d="M658.0,327.0 L662.5,326.2 L664.7,327.7 L661.7,328.5 L658.7,328.0Z" fill="#a1dab4"/>
<path d="M671.8,333.7 L673.0,333.0 L673.3,336.0 L672.1,336.7Z" fill="#a1dab4"/>
<path d="M637.0,271.5 L640.0,270.7 L641.5,274.5 L640.7,279.0 L643.0,282.0 L646.0,282.7 L647.5,285.0 L645.2,285.7 L642.2,284.2 L639.2,282.0 L637.7,278.2 L636.7,274.5Z" fill="#ffffcc"/>
<path d="M643.0,288.7 L646.7,288.0 L650.5,287.2 L651.2,290.2 L648.2,292.5 L645.2,292.5 L643.7,291.0Z" fill="#ffffcc"/>
<path d="M644.5,297.7 L648.2,296.2 L651.2,294.0 L653.5,295.5 L654.2,299.2 L653.5,302.2 L651.7,303.7 L650.2,301.5 L647.5,300.7 L643.7,300.0Z" fill="#ffffcc"/>
<path d="M632.5,296.2 L634.7,293.2 L637.7,289.5 L638.2,290.2 L635.5,294.0 L633.2,297.0Z" fill="#ffffcc"/>
<path d="M664.0,321.7 L668.5,320.2 L672.2,321.7 L673.0,324.7 L676.0,326.2 L679.7,324.0 L683.5,323.2 L688.0,326.2 L688.0,342.7 L685.0,341.7 L682.0,340.5 L679.7,339.7 L680.5,336.0 L677.5,333.0 L673.7,330.0 L670.0,329.2 L668.5,326.2 L670.7,325.5 L667.7,323.2Z" fill="#a1dab4"/>
<path d="M688.0,326.2 L692.5,327.7 L697.0,330.0 L700.0,332.2 L699.0,337.0 L703.0,340.0 L706.0,343.0 L709.0,346.0 L706.0,346.0 L701.0,343.4 L697.0,342.0 L692.0,343.0 L687.4,342.6 L688.0,342.7Z" fill="#2c7fb8"/>
<path d="M619.0,378.0 L622.0,376.0 L627.0,374.0 L633.0,372.0 L638.0,370.0 L641.0,366.0 L644.0,363.0 L648.0,360.0 L653.0,356.6 L658.0,355.0 L661.0,352.0 L665.0,349.0 L669.0,349.4 L672.0,350.6 L676.0,351.0 L674.0,355.0 L676.0,358.0 L679.0,361.0 L682.0,364.0 L684.0,363.0 L685.0,359.0 L686.6,354.0 L688.0,350.0 L690.0,347.4 L691.4,352.0 L693.0,356.0 L694.6,361.0 L696.0,367.0 L699.0,370.0 L701.0,375.0 L703.0,379.0 L705.0,384.0 L705.6,389.0 L704.6,394.0 L703.0,399.0 L700.0,404.0 L697.0,408.0 L694.0,412.0 L690.0,415.0 L687.0,417.4 L682.0,418.6 L678.0,420.0 L674.0,420.6 L671.0,419.0 L667.0,418.0 L664.6,415.0 L663.0,412.0 L664.6,406.0 L661.0,410.0 L659.0,409.4 L656.0,406.0 L652.0,404.0 L647.0,403.0 L642.0,404.0 L637.0,405.0 L633.0,407.0 L628.0,408.6 L624.0,409.4 L619.0,410.6 L615.0,409.4 L614.0,407.0 L616.6,404.0 L618.0,399.0 L617.4,394.0 L616.6,389.0 L618.0,384.0 L618.6,380.0Z" fill="#41b6c4"/>
<path d="M668.6,426.0 L673.0,425.4 L676.6,426.0 L675.0,430.0 L672.0,432.6 L668.6,432.0 L667.4,429.0Z" fill="#41b6c4"/>
<path d="M739.4,409.4 L741.0,411.0 L742.0,415.0 L745.0,416.0 L746.6,417.4 L744.0,420.0 L741.0,422.0 L738.0,424.0 L735.0,426.0 L733.0,427.4 L731.4,426.0 L734.0,423.0 L737.0,420.0 L738.6,416.0 L738.6,412.0Z" fill="#2c7fb8"/>
<path d="M730.0,425.0 L731.4,427.0 L728.0,430.0 L724.0,433.0 L719.0,436.0 L714.0,438.6 L709.0,440.6 L706.0,440.0 L705.0,438.0 L709.0,436.0 L714.0,433.4 L719.0,430.6 L724.0,428.0 L727.4,426.0Z" fill="#2c7fb8"/>
<path d="M720.0,335.4 L723.0,336.6 L722.6,337.8 L719.8,336.6Z" fill="#2c7fb8"/>
<path d="M724.6,337.4 L727.4,339.0 L727.0,340.2 L724.4,338.6Z" fill="#2c7fb8"/>
<path d="M729.4,340.6 L732.2,342.6 L731.8,344.0 L729.0,342.0Z" fill="#2c7fb8"/>
<path d="M733.0,344.0 L735.4,346.0 L735.0,347.4 L732.6,345.4Z" fill="#2c7fb8"/>
<path d="M743.0,358.0 L744.6,357.4 L745.0,361.0 L743.6,362.0Z" fill="#41b6c4"/>
<path d="M734.0,372.0 L736.0,371.0 L740.0,376.0 L738.6,377.4Z" fill="url(#hatch)" stroke="#d0d0d0"/>
<path d="M766.0,364.5 L770.0,362.5 L773.8,362.0 L772.5,364.0 L768.0,366.3Z" fill="#41b6c4"/>
<path d="M704.2,333.8 L708.8,332.5 L713.8,330.0 L715.0,327.0 L716.2,330.0 L713.8,333.0 L708.8,335.0 L705.0,335.5Z" fill="#2c7fb8"/>
<path d="M710.0,325.5 L712.5,325.0 L716.2,327.5 L717.0,329.5 L714.5,328.0Z" fill="#2c7fb8"/>
<path d="M512.0,208.0 L515.0,207.0 L518.0,206.0 L523.0,206.5 L528.0,207.0 L531.5,208.0 L530.0,210.0 L527.0,211.5 L524.5,212.5 L522.0,213.5 L520.5,215.0 L518.0,215.5 L515.5,216.2 L514.0,215.0 L514.0,214.5 L517.0,213.0 L516.0,211.5 L512.5,212.5 L511.0,212.5 L513.0,211.5 L512.0,210.0Z" fill="#a1dab4"/>
<path d="M507.5,216.5 L509.5,214.5 L512.0,214.5 L514.0,215.0 L515.5,216.2 L518.0,215.5 L520.5,215.0 L522.0,218.0 L524.0,221.0 L522.0,221.8 L519.5,222.0 L517.5,220.5 L516.0,219.0 L514.0,219.5 L512.0,221.5 L510.0,222.0 L509.0,219.5Z" fill="#a1dab4"/>
<path d="M9.0,267.0 L11.7,266.6 L11.4,268.8 L9.3,269.3Z" fill="#a1dab4"/>
<path d="M5.3,262.8 L7.0,263.2 L8.6,264.3 L8.2,264.9 L6.0,263.9Z" fill="#a1dab4"/>
<path d="M1.8,260.8 L2.8,261.0 L2.6,261.6 L1.8,261.4Z" fill="#a1dab4"/>
<path d="M562.0,246.0 L564.0,245.0 L567.0,245.5 L568.5,247.0 L568.0,248.5 L564.5,248.5 L562.0,247.5Z" fill="#2c7fb8"/>
<path d="M579.5,246.0 L581.5,245.0 L583.5,247.5 L584.0,251.0 L583.5,254.0 L585.0,256.5 L587.5,258.5 L590.0,261.0 L591.5,263.5 L590.0,265.5 L587.0,266.5 L585.0,268.5 L584.5,271.5 L585.5,274.0 L586.5,276.5 L588.0,280.0 L589.5,284.0 L590.5,288.0 L590.0,292.0 L589.0,292.5 L588.5,289.0 L587.5,285.0 L586.0,281.0 L585.0,278.0 L584.5,275.5 L582.5,276.5 L580.0,277.5 L578.0,277.0 L578.5,274.5 L577.0,271.5 L575.0,268.5 L573.0,265.5 L572.0,263.5 L573.5,260.5 L573.0,257.5 L575.0,254.5 L575.5,251.0 L577.0,248.5Z" fill="#41b6c4"/>
<path d="M590.0,265.5 L591.5,263.5 L592.5,260.5 L594.5,262.0 L596.5,264.0 L599.5,266.0 L600.5,268.0 L599.5,269.5 L602.0,272.0 L604.5,275.0 L607.0,278.0 L608.0,281.0 L606.5,282.0 L604.5,281.5 L604.0,279.0 L602.5,276.0 L600.5,273.5 L598.0,271.5 L595.5,272.0 L593.5,272.5 L592.5,269.5 L591.0,267.5Z" fill="#41b6c4"/>
<path d="M597.5,284.0 L599.0,282.0 L602.0,281.5 L604.5,281.8 L607.0,281.8 L609.0,283.5 L609.5,286.0 L607.0,288.0 L605.0,290.0 L602.5,291.0 L600.0,290.0 L598.5,287.5Z" fill="#a1dab4"/>
<path d="M221.0,291.8 L223.5,291.6 L223.3,293.4 L221.2,293.3Z" fill="#ffffcc"/>
<path d="M414.3,141.3 L417.3,142.4 L421.8,142.8 L426.3,143.9 L430.0,145.4 L433.0,146.9 L433.8,148.4 L432.3,149.5 L430.0,149.9 L427.0,149.7 L424.0,149.4 L421.8,148.8 L420.3,148.6 L421.4,149.7 L423.3,150.6 L424.8,151.8 L425.5,153.3 L427.0,154.4 L428.5,154.8 L428.1,152.9 L427.4,152.1 L430.0,151.8 L432.3,152.5 L433.4,152.1 L432.6,150.6 L434.5,149.7 L436.8,149.1 L438.6,149.7 L439.4,148.4 L438.3,146.9 L436.8,145.4 L436.4,144.3 L438.6,145.0 L440.5,145.4 L441.6,146.1 L441.3,147.6 L443.5,148.4 L446.5,146.9 L449.5,145.4 L453.3,144.3 L455.1,145.4 L457.0,144.6 L460.0,144.3 L463.5,142.2 L465.0,141.5 L468.0,141.8 L470.0,141.4 L473.0,140.6 L472.6,136.0 L476.4,135.0 L479.6,137.0 L481.0,141.0 L484.0,145.0 L487.0,148.0 L489.0,149.0 L490.0,146.0 L487.0,142.0 L484.0,138.0 L482.4,136.0 L486.0,135.0 L490.0,137.0 L492.0,135.0 L494.0,133.0 L498.0,131.0 L504.0,129.0 L510.0,128.0 L516.0,126.0 L520.0,125.0 L526.0,126.6 L532.0,129.0 L538.0,131.0 L542.0,132.0 L548.0,133.0 L554.0,134.0 L560.0,133.0 L566.0,134.0 L570.0,134.6 L570.0,136.0 L578.0,138.0 L586.0,135.0 L592.0,136.0 L600.0,137.0 L610.0,138.0 L618.0,139.0 L626.0,140.6 L634.0,142.0 L642.0,142.6 L650.0,143.0 L646.0,141.4 L654.0,141.0 L660.0,142.0 L666.0,145.0 L672.0,149.0 L678.0,153.0 L677.0,154.6 L682.0,156.0 L685.6,158.0 L680.0,159.0 L677.0,163.0 L672.0,164.0 L666.0,165.0 L667.0,169.0 L671.0,173.0 L674.0,176.0 L675.0,182.0 L674.4,186.0 L671.0,183.0 L668.0,178.0 L664.0,174.0 L660.0,171.0 L658.0,169.0 L660.0,165.0 L660.4,162.0 L658.0,159.0 L656.0,162.0 L651.0,162.0 L648.0,163.0 L649.0,166.0 L645.0,167.0 L638.0,166.0 L632.0,167.0 L627.0,168.0 L624.0,176.0 L628.0,178.0 L634.0,179.0 L638.0,182.0 L641.0,185.0 L644.0,189.0 L646.0,195.0 L645.6,201.0 L643.0,205.0 L640.0,208.0 L637.0,207.0 L636.0,201.0 L637.0,195.0 L634.0,194.0 L629.0,193.0 L624.0,189.0 L619.0,185.0 L614.0,182.0 L607.0,180.6 L601.0,182.0 L600.0,185.0 L601.0,189.0 L597.0,191.0 L598.0,194.0 L603.0,195.0 L607.6,196.6 L604.0,199.0 L598.0,201.0 L594.0,204.0 L593.0,207.0 L588.0,209.0 L584.0,210.0 L578.0,208.0 L570.0,207.4 L566.0,207.0 L560.0,204.0 L554.0,201.0 L548.0,198.0 L543.0,195.0 L541.0,191.4 L539.0,190.0 L534.0,188.0 L528.0,186.0 L522.0,184.0 L516.0,181.0 L511.0,178.0 L506.0,180.0 L500.0,177.0 L496.0,175.4 L490.0,177.0 L483.0,179.0 L481.6,182.0 L484.0,185.0 L483.0,187.0 L477.0,185.0 L470.0,184.6 L466.0,186.5 L463.0,187.5 L460.0,188.0 L458.0,189.5 L457.0,191.5 L457.5,194.0 L459.0,196.0 L461.0,197.5 L462.5,198.5 L461.0,200.0 L460.0,201.5 L460.5,203.5 L462.0,206.0 L463.5,208.5 L464.5,210.5 L461.0,211.5 L457.0,211.2 L453.0,210.5 L450.5,210.8 L449.5,208.5 L446.5,206.5 L443.0,204.5 L440.0,203.0 L439.5,201.0 L440.5,199.0 L441.0,197.0 L441.5,195.0 L443.5,193.0 L442.5,190.5 L439.0,188.5 L435.0,187.0 L431.0,185.0 L430.5,183.5 L426.0,182.8 L424.5,180.5 L422.2,179.0 L423.0,176.0 L420.0,173.8 L416.7,172.2 L415.5,169.2 L415.2,165.5 L418.0,165.0 L416.8,164.0 L414.7,164.0 L417.0,161.7 L419.2,158.0 L416.2,153.5 L413.2,149.0 L411.7,143.7Z" fill="#41b6c4"/>
<path d="M462.5,198.5 L465.0,197.5 L468.0,197.0 L471.0,197.5 L472.0,199.0 L470.5,200.0 L468.5,200.5 L467.5,202.0 L469.0,203.5 L471.0,205.0 L472.5,206.5 L474.0,208.5 L475.0,210.0 L476.0,209.5 L477.2,210.5 L476.5,212.0 L478.0,214.0 L477.2,218.0 L478.5,220.5 L477.0,222.0 L474.0,222.2 L471.5,221.0 L469.5,218.5 L469.0,215.0 L468.0,213.0 L466.0,211.2 L464.5,210.5 L463.5,208.5 L462.0,206.0 L460.5,203.5 L460.0,201.5 L461.0,200.0Z" fill="#ffffff"/>
<path d="M513.5,212.2 L516.0,211.8 L516.5,213.0 L514.0,213.6Z" fill="#ffffff"/>
<path d="M474.5,210.0 L476.5,209.5 L478.0,211.0 L477.0,212.5 L475.0,212.0Z" fill="#ffffff"/>
</g>
<g fill="none" stroke="#666666" stroke-width="0.45" stroke-linejoin="round" stroke-linecap="round">
<path d="M198.6,287.4 L196.0,291.0 L195.6,295.0 L198.0,298.0 L200.0,300.6 L205.0,301.0 L208.0,302.0 L209.0,305.0 L207.0,308.0 L208.0,312.0 L210.0,314.0"/>
<path d="M210.0,314.0 L213.0,311.0 L217.0,312.0 L218.0,309.0 L221.0,308.0 L223.0,305.0"/>
<path d="M179.6,315.0 L184.0,316.0 L189.0,318.0 L190.0,320.0 L187.0,325.0 L182.0,329.0 L179.0,327.4 L176.0,329.0"/>
<path d="M190.0,320.0 L196.0,323.0 L201.0,327.0 L202.0,330.0"/>
<path d="M210.0,314.0 L209.0,318.0 L207.0,321.4 L202.0,330.0 L196.0,333.0 L194.0,337.0 L197.0,343.0 L202.0,344.0 L205.0,347.0 L206.0,352.0 L205.0,357.0 L203.0,363.0 L204.0,367.4"/>
<path d="M205.0,347.0 L210.0,345.0 L213.0,345.0 L215.0,350.0 L220.0,353.0 L226.0,356.0 L228.0,360.0 L231.0,362.0 L232.0,367.0 L232.4,370.0 L234.0,375.0 L238.0,377.0 L240.0,382.0 L241.6,384.6"/>
<path d="M232.4,370.0 L227.0,369.4 L223.0,371.0 L222.0,375.0 L217.0,377.0 L213.0,376.0 L210.0,377.4 L208.0,375.0 L206.0,371.0 L204.0,367.4"/>
<path d="M235.7,397.6 L241.3,401.1 L247.4,404.6"/>
<path d="M203.6,363.5 L206.3,366.1 L208.9,368.8 L211.2,376.6 L213.3,377.5"/>
<path d="M541.0,191.4 L545.0,188.0 L550.0,186.6 L557.0,186.0 L558.0,184.0 L564.0,185.0 L570.0,187.0 L570.0,188.0 L578.0,190.0 L585.0,190.6 L590.0,189.0 L597.0,188.6 L600.0,185.0"/>
<path d="M358.1,226.9 L360.0,231.2 L358.8,234.4 L355.6,236.2 L351.2,238.8 L346.9,241.2 L343.8,243.1 L343.1,246.9 L348.8,251.2 L357.5,257.5 L365.0,263.1 L371.2,268.8 L378.8,264.4 L385.0,260.6 L389.4,258.1 L385.0,253.8 L384.4,248.8 L385.0,243.8 L384.4,239.4 L381.9,235.0 L379.4,231.2 L380.0,227.5 L381.2,222.8"/>
<path d="M384.4,239.4 L386.9,235.6 L388.5,233.1"/>
<path d="M389.4,258.1 L395.0,259.4 L397.5,258.1 L407.5,263.1 L417.5,267.5"/>
<path d="M397.5,258.1 L398.8,265.0 L396.9,271.2 L395.0,277.5 L393.8,283.1"/>
<path d="M371.2,268.8 L372.5,273.8 L371.2,277.5 L366.2,279.4 L363.1,280.0 L360.0,279.4 L356.2,281.2 L353.1,284.4 L351.2,287.5"/>
<path d="M348.8,251.2 L349.4,253.8 L350.0,276.9 L345.0,277.5 L338.8,278.1 L335.6,279.4 L332.5,276.9 L328.8,275.0 L325.0,276.2"/>
<path d="M363.1,280.0 L366.2,283.1 L370.0,285.0 L372.5,285.0 L376.2,283.1 L382.5,284.4 L388.8,283.8 L393.8,283.1"/>
<path d="M418.1,236.9 L419.4,241.2 L419.4,261.2 L445.6,261.5"/>
<path d="M419.4,261.2 L419.4,266.9 L417.5,267.5 L416.9,273.1 L415.0,277.5 L414.4,282.5 L415.6,286.2 L418.8,289.4 L420.0,292.5 L423.8,293.8 L427.5,293.1 L432.5,292.5 L436.2,290.6 L436.9,287.5 L439.4,287.5 L440.0,291.2 L441.9,293.1 L443.8,290.0 L445.0,287.5 L446.2,283.8 L446.9,280.0 L448.1,276.2 L448.8,273.1 L452.5,274.4"/>
<path d="M397.5,258.1 L417.5,267.5"/>
<path d="M397.5,258.1 L398.8,265.0 L397.5,272.5 L395.6,278.8 L394.4,283.1 L396.2,287.5 L395.0,290.0"/>
<path d="M400.6,298.8 L406.2,296.9 L411.9,292.5 L415.0,290.0 L420.0,292.5"/>
<path d="M448.8,273.8 L452.5,280.0 L456.2,281.9 L459.4,285.6 L461.2,287.5"/>
<path d="M445.0,287.5 L443.8,293.1 L441.2,297.5"/>
<path d="M343.8,292.5 L345.0,290.6 L349.4,290.0 L353.8,290.6 L355.6,293.1 L356.2,300.0 L356.2,305.6"/>
<path d="M355.6,290.6 L362.5,290.0 L363.8,295.0 L364.4,300.0 L365.0,303.8"/>
<path d="M363.8,290.0 L366.9,290.0 L367.2,296.2 L368.1,302.8"/>
<path d="M366.9,290.0 L370.0,288.8 L369.4,295.0 L370.0,302.8"/>
<path d="M370.6,288.8 L373.1,283.8 L378.8,283.1 L385.0,284.4 L390.0,283.8 L395.0,283.1 L395.6,286.9"/>
<path d="M323.1,283.1 L327.5,282.5 L331.9,283.1 L335.6,282.5 L336.2,286.2"/>
<path d="M349.4,290.0 L351.2,285.0 L356.2,281.9 L361.2,280.0 L364.4,281.9 L366.9,286.2 L366.9,290.0"/>
<path d="M446.2,281.5 L450.0,280.0 L455.2,281.5 L459.0,285.2 L460.8,286.7"/>
<path d="M460.5,289.7 L462.7,291.2 L465.0,293.5 L471.7,298.0 L468.0,301.7 L463.5,304.7 L459.0,307.7 L455.2,308.5 L451.5,307.7 L447.7,307.0 L444.7,304.7 L442.5,301.0 L439.5,298.0 L441.7,293.5 L443.2,289.0 L444.7,285.2 L446.2,281.5"/>
<path d="M459.0,307.7 L457.5,311.5 L457.8,317.5 L459.3,321.2"/>
<path d="M444.7,304.7 L442.5,309.2 L441.7,316.0 L442.5,320.5 L450.0,325.0 L455.2,328.0"/>
<path d="M420.0,305.5 L426.0,307.7 L432.0,309.2 L442.5,309.2"/>
<path d="M432.0,309.2 L432.7,313.0 L430.5,317.5 L431.2,322.0 L435.0,321.2 L442.5,320.5"/>
<path d="M420.0,292.0 L424.5,293.5 L429.0,294.2 L433.5,292.0 L435.7,292.7 L436.5,287.5 L438.7,286.7 L439.5,291.2 L439.5,298.0"/>
<path d="M431.2,322.0 L430.5,325.7 L432.0,329.2 L434.7,328.7 L434.2,325.0 L435.0,321.2"/>
<path d="M390.0,363.6 L400.0,364.4 L411.0,365.6 L417.0,365.0 L421.0,366.4 L425.0,363.0 L430.0,359.0 L434.0,358.0 L438.0,360.0 L439.0,366.0 L437.0,371.0 L434.0,375.0 L430.0,377.0 L429.0,374.0 L425.0,370.0 L421.0,366.4"/>
<path d="M418.0,349.0 L413.0,352.0 L413.0,359.0 L415.0,365.0"/>
<path d="M411.0,365.6 L410.0,372.0 L409.0,380.0 L408.0,388.0 L407.0,394.0 L403.0,395.0 L398.0,392.0"/>
<path d="M409.0,387.0 L411.0,389.0 L415.0,385.0 L419.0,385.0 L423.0,383.0 L427.0,379.0 L430.0,377.0"/>
<path d="M430.0,353.0 L432.0,346.0 L438.0,343.0 L441.0,346.0 L439.0,352.0 L438.0,357.0 L434.0,358.0"/>
<path d="M440.0,346.0 L442.0,350.0 L443.0,357.0 L444.0,361.0 L442.0,362.0 L440.4,357.0 L439.0,352.0"/>
<path d="M438.0,343.0 L435.0,340.0 L432.0,335.0 L431.0,330.0 L433.0,326.0 L434.0,323.0 L442.0,322.0 L450.0,326.0 L454.0,335.0"/>
<path d="M441.0,346.0 L445.0,348.0 L450.0,348.0 L456.4,346.0"/>
<path d="M439.0,366.0 L443.0,368.0"/>
<path d="M434.0,375.0 L436.0,380.0 L437.0,385.0"/>
<path d="M432.0,387.0 L434.4,386.0 L435.0,389.0 L433.0,390.0 L432.0,387.0"/>
<path d="M344.0,208.3 L346.3,209.0 L349.3,209.8 L348.9,212.8 L347.8,215.0 L347.4,218.0 L348.1,220.3 L347.0,222.1"/>
<path d="M359.4,205.3 L362.0,206.8 L365.0,207.5 L368.0,208.6 L369.5,208.6"/>
<path d="M368.0,186.1 L371.0,188.4 L374.0,190.3 L377.8,191.8 L378.9,193.3 L377.0,195.1 L375.9,195.9 L375.5,198.1 L377.0,200.0 L376.6,202.3 L378.5,204.1 L379.3,204.4"/>
<path d="M375.9,195.5 L378.9,194.4 L383.0,195.5 L383.8,197.0 L380.0,198.9 L377.0,198.1"/>
<path d="M372.0,182.2 L375.0,183.3 L376.2,185.2 L375.7,187.5 L375.0,188.2"/>
<path d="M376.5,178.5 L376.8,181.5 L376.2,185.2"/>
<path d="M380.2,176.7 L383.2,176.7"/>
<path d="M391.5,177.4 L392.2,181.5 L393.0,185.2 L391.8,186.7 L389.2,188.2 L387.7,189.7 L390.0,192.0 L391.5,192.7 L388.5,194.2 L385.5,195.0 L382.5,194.7 L379.5,195.0 L377.2,194.2"/>
<path d="M391.8,186.7 L396.0,187.5 L399.7,189.3 L401.2,190.8 L398.2,192.0 L394.5,193.5 L391.5,192.7"/>
<path d="M405.7,178.2 L409.5,179.2 L411.0,183.7 L410.2,187.5 L411.0,189.7 L408.0,190.5 L405.0,190.8 L401.2,190.8"/>
<path d="M398.2,192.0 L397.5,194.2 L399.0,194.5 L402.7,194.2 L406.5,193.5 L409.5,192.3 L408.0,190.5"/>
<path d="M398.2,196.5 L398.2,197.2 L400.5,198.7 L404.2,198.7 L408.0,197.2 L410.2,194.2 L409.5,192.3"/>
<path d="M410.2,194.2 L414.0,193.5 L418.5,192.7 L421.5,195.0 L423.7,198.0 L426.0,199.5"/>
<path d="M408.0,197.2 L409.5,200.2 L412.5,201.7 L416.2,202.2 L420.0,201.7 L423.0,202.5 L424.5,201.7"/>
<path d="M412.5,201.7 L411.7,204.7 L413.2,207.7 L416.2,208.5 L420.0,207.7 L422.2,207.7"/>
<path d="M404.2,198.7 L405.0,201.7 L407.2,204.0 L408.7,206.2 L408.0,208.5 L409.5,210.7 L411.7,210.0 L413.2,207.7"/>
<path d="M411.0,183.7 L415.5,183.7 L420.0,183.3 L423.7,183.7 L426.0,182.2"/>
<path d="M409.5,179.2 L411.7,177.0 L414.7,174.7 L417.0,172.5"/>
<path d="M411.0,189.7 L414.7,190.5 L418.5,192.7 L421.5,193.5 L423.0,196.5 L423.7,198.0"/>
<path d="M403.5,210.0 L405.7,209.2 L407.2,207.0 L408.7,206.2"/>
<path d="M405.7,216.0 L408.0,213.7 L411.7,214.5"/>
<path d="M420.0,212.2 L418.5,210.0 L420.0,207.7"/>
<path d="M567.7,245.7 L571.5,244.2 L576.0,242.7 L580.5,245.0"/>
<path d="M561.0,251.0 L562.5,248.7 L566.2,250.2 L569.2,251.0 L570.0,254.7 L571.5,258.5 L570.7,260.0"/>
<path d="M563.2,262.2 L561.7,257.7 L560.2,254.0 L561.0,251.0"/>
<path d="M635.0,219.5 L638.5,219.0"/>
<path d="M627.0,214.5 L629.0,212.5 L632.0,210.0 L634.5,209.0 L637.5,207.5"/>
<path d="M539.0,190.0 L537.0,194.0 L534.0,196.0 L532.5,199.5 L529.0,202.0 L531.5,208.0"/>
<path d="M478.5,201.5 L480.5,200.5 L484.0,200.0 L486.5,201.0 L489.0,203.0 L491.5,205.0 L495.0,205.5 L499.0,205.0 L501.0,206.5 L503.0,209.0 L505.0,211.0 L507.5,212.0 L509.5,211.0 L512.0,209.5"/>
<path d="M476.0,209.5 L479.5,210.0 L480.5,209.5 L479.5,205.0 L478.5,201.5"/>
<path d="M480.5,209.5 L481.0,211.0 L483.5,209.0 L486.0,208.0 L488.5,209.5 L491.0,211.5 L494.5,213.5 L497.0,215.5 L500.0,217.5 L503.0,219.0 L506.0,220.5 L508.0,221.5"/>
<path d="M478.0,220.0 L481.0,220.0 L485.0,219.2 L488.0,220.5 L491.5,222.0 L494.5,224.0 L496.2,226.5 L499.0,225.5 L502.0,223.0 L504.5,221.5 L508.0,221.5 L510.0,222.0"/>
<path d="M524.5,222.0 L520.5,223.5 L518.0,224.5 L518.5,227.5 L517.5,230.0 L515.5,232.5 L514.0,235.5 L510.5,237.0 L509.0,240.0 L505.0,241.5 L500.0,242.0 L498.0,241.0 L499.0,238.0 L497.0,235.0 L495.5,232.0 L495.0,229.0 L496.2,226.5"/>
<path d="M498.0,241.0 L500.0,244.0 L503.0,247.0 L503.5,250.0"/>
<path d="M524.5,222.0 L528.0,225.0 L532.0,227.0 L535.0,232.0 L537.0,236.0 L542.0,239.5"/>
<path d="M524.0,228.5 L527.0,228.0 L530.0,227.5 L532.0,227.0"/>
<path d="M524.0,228.5 L525.5,230.0 L528.0,232.0 L528.5,237.0 L527.0,241.0 L524.5,244.0 L521.0,246.5 L519.0,249.0"/>
<path d="M440.5,224.5 L443.0,223.5 L447.0,222.5 L452.0,222.0 L457.0,221.5 L459.0,221.0 L461.0,220.5 L462.5,219.0 L462.0,216.0 L461.0,214.0 L460.5,212.0 L459.0,213.0 L457.0,212.5 L454.0,211.5 L450.5,210.8"/>
<path d="M460.5,212.0 L463.0,214.0 L466.0,215.0 L468.0,214.0 L469.0,215.0"/>
<path d="M457.0,212.5 L460.0,211.2 L463.0,211.8 L464.5,210.5"/>
<path d="M459.0,221.0 L457.0,224.5 L456.0,228.0 L452.0,230.5 L450.0,232.0 L447.0,233.0 L443.0,234.5 L441.0,234.0"/>
<path d="M462.5,219.0 L464.0,223.0 L463.5,227.0 L466.0,230.0 L469.0,233.0 L471.0,237.0 L470.0,240.5"/>
<path d="M440.0,243.0 L441.0,243.0 L445.0,241.5 L449.0,238.0 L446.5,235.5 L450.0,233.8 L455.0,237.0 L461.0,241.0 L466.0,243.5 L468.0,243.0 L470.5,241.5"/>
<path d="M450.0,233.8 L449.0,232.5 L446.5,233.0 L443.0,234.5 L440.5,235.0"/>
<path d="M468.0,243.0 L469.5,244.5 L471.5,243.5"/>
<path d="M459.5,278.0 L461.5,274.0 L465.0,273.0 L470.0,274.5 L473.0,272.0 L477.0,270.5 L481.0,269.5 L484.0,275.0"/>
<path d="M481.0,269.5 L488.0,267.0 L489.0,262.0 L487.0,259.0 L482.5,257.0 L480.0,255.0"/>
<path d="M489.0,255.0 L487.5,258.0 L488.5,260.0 L489.0,262.0"/>
<path d="M590.0,292.0 L592.0,291.0 L593.0,288.0 L592.0,285.0 L593.0,282.0 L596.0,283.0 L597.5,284.0"/>
<path d="M592.5,260.5 L594.5,259.0 L598.0,258.5 L600.0,258.0 L602.0,259.5 L604.0,261.0 L604.5,263.5 L604.0,266.0"/>
<path d="M600.5,268.0 L603.0,268.5"/>
<path d="M608.0,281.0 L610.0,280.5 L611.5,280.0"/>
<path d="M605.0,290.0 L607.0,291.0 L608.5,292.0"/>
</g>
<rect x="198.5" y="517.5" width="48" height="11" fill="url(#hatch)" stroke="#bbb" stroke-width="0.8"/>
<line x1="222.5" y1="514.5" x2="222.5" y2="517.5" stroke="#999" stroke-width="0.8"/>
<rect x="266" y="517.5" width="77.3" height="11" fill="#ffffcc" stroke="#9a9a9a" stroke-width="0.5"/>
<rect x="343.3" y="517.5" width="77.0" height="11" fill="#a1dab4" stroke="#9a9a9a" stroke-width="0.5"/>
<rect x="420.3" y="517.5" width="76.9" height="11" fill="#41b6c4" stroke="#9a9a9a" stroke-width="0.5"/>
<rect x="497.2" y="517.5" width="76.8" height="11" fill="#2c7fb8" stroke="#9a9a9a" stroke-width="0.5"/>
<path d="M574,517.5 H646.5 L651.5,523 L646.5,528.5 H574 Z" fill="#253494" stroke="#9a9a9a" stroke-width="0.3"/>
<line x1="266" y1="514.5" x2="266" y2="517.5" stroke="#8a8a8a" stroke-width="0.7"/>
<text class="lg" x="264.8" y="510" text-anchor="middle">0 m³</text>
<line x1="343.3" y1="514.5" x2="343.3" y2="517.5" stroke="#8a8a8a" stroke-width="0.7"/>
<text class="lg" x="342.7" y="510" text-anchor="middle">5,000 m³</text>
<line x1="420.3" y1="514.5" x2="420.3" y2="517.5" stroke="#8a8a8a" stroke-width="0.7"/>
<text class="lg" x="419.7" y="510" text-anchor="middle">10,000 m³</text>
<line x1="497.2" y1="514.5" x2="497.2" y2="517.5" stroke="#8a8a8a" stroke-width="0.7"/>
<text class="lg" x="496.6" y="510" text-anchor="middle">50,000 m³</text>
<line x1="574" y1="514.5" x2="574" y2="517.5" stroke="#8a8a8a" stroke-width="0.7"/>
<text class="lg" x="573.4" y="510" text-anchor="middle">100,000 m³</text>
<text class="lg" x="222.3" y="510" text-anchor="middle">No data</text>
</svg>
<div id="foot1" class="abs foot"><b>Data source:</b> AQUASTAT - FAO's Global Information System on Water and Agriculture, FAO, via World Bank (2026)</div>
<div id="foot2" class="abs foot">OurWorldinData.org/water-use-stress | CC BY</div>
</body></html>
